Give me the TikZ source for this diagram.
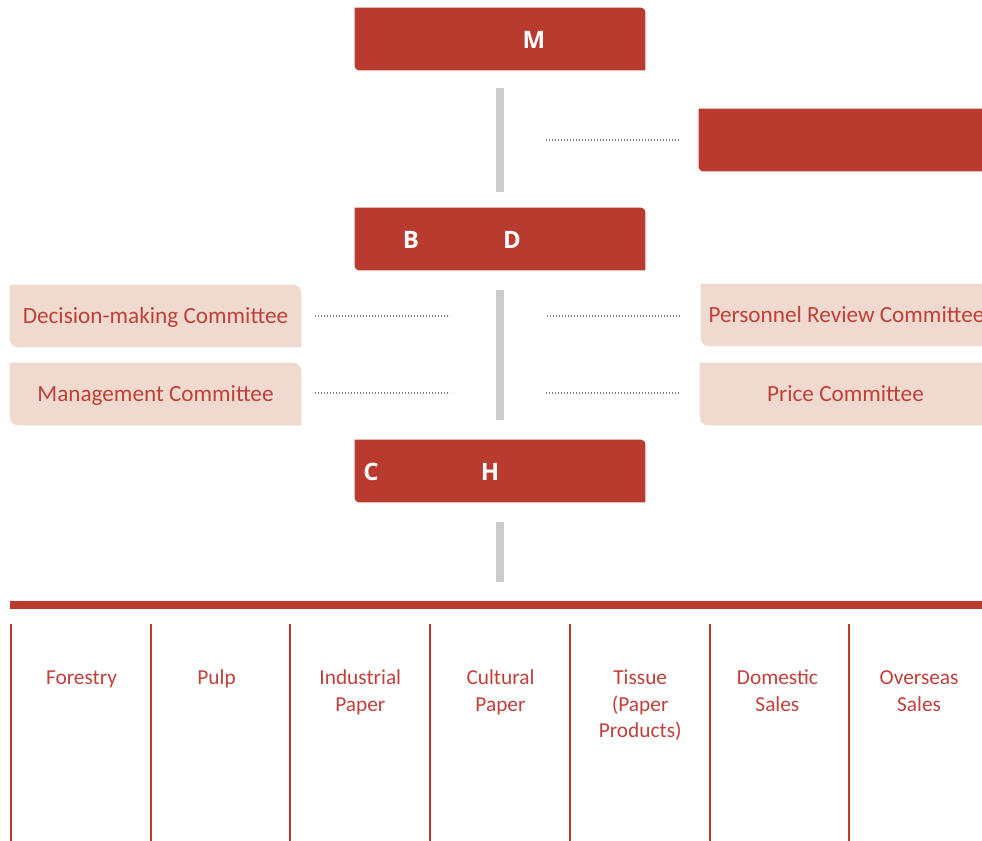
\documentclass[tikz,border=0pt]{standalone}
\usepackage{fontspec}
\setmainfont{Carlito}
\newfontfamily\headfont{Open Sans}
\usetikzlibrary{calc,backgrounds}
\definecolor{boxred}{HTML}{B93A2E}
\definecolor{txtred}{HTML}{C0403A}
\definecolor{pinkfill}{HTML}{F0DACF}
\definecolor{bargrey}{HTML}{CCCCCC}
\definecolor{dotgrey}{HTML}{808080}
\newcommand{\leafbox}[3]{%
  \fill[#2] (#1.north west) -- ([xshift=-#3]#1.north east)
    arc[start angle=90,end angle=0,radius=#3] -- (#1.south east)
    -- ([xshift=#3]#1.south west) arc[start angle=270,end angle=180,radius=#3] -- cycle;}
\begin{document}
\begin{tikzpicture}[x=0.75pt,y=-0.75pt,
  redbox/.style={minimum width=217.5pt,minimum height=46.5pt,inner sep=0pt},
  combox/.style={minimum width=218.25pt,minimum height=46.5pt,inner sep=0pt,
     font=\fontsize{17.4}{20}\selectfont,text=txtred,text height=11.4pt,text depth=0pt},
  headtxt/.style={font=\headfont\bfseries\fontsize{18}{20}\selectfont,text=white,anchor=base,inner sep=0pt},
  bar/.style={draw=bargrey,line width=6pt},
  dots/.style={draw=dotgrey,line width=0.9pt,dash pattern=on 0.9pt off 1.35pt},
  divline/.style={draw=boxred,line width=1.5pt},
  unit/.style={font=\fontsize{16}{20}\selectfont,text=txtred,align=center,anchor=north,inner sep=0pt}]
\clip (0,0) rectangle (982,840);
\useasboundingbox (0,0) rectangle (982,840);
% red boxes
\node[redbox] (gm) at (500,39) {};
\node[redbox,minimum width=218.25pt] (sup) at (844.5,140) {};
\node[redbox] (bd) at (500,239) {};
\node[redbox] (ch) at (500,471) {};
% committee boxes
\node[combox] (dmc) at (155.5,316) {Decision-making Committee};
\node[combox] (mc) at (155.5,394) {Management Committee};
\node[combox] (prc) at (846.5,315) {Personnel Review Committee};
\node[combox] (pc) at (845.5,394) {Price Committee};
\begin{scope}[on background layer]
\leafbox{gm}{boxred}{3pt}
\leafbox{sup}{boxred}{3pt}
\leafbox{bd}{boxred}{3pt}
\leafbox{ch}{boxred}{3pt}
\leafbox{dmc}{pinkfill}{6pt}
\leafbox{mc}{pinkfill}{6pt}
\leafbox{prc}{pinkfill}{6pt}
\leafbox{pc}{pinkfill}{6pt}
\end{scope}
% letters in red boxes
\node[headtxt] (gmM) at (534,48) {M};
\node[headtxt] (bdB) at (411,248) {B};
\node[headtxt] (bdD) at (512,248) {D};
\node[headtxt] (chC) at (371,480) {C};
\node[headtxt] (chH) at (490,480) {H};
% grey bars
\draw[bar] ($(gm.south)+(0,18)$) -- ($(bd.north)+(0,-16)$);
\draw[bar] ($(bd.south)+(0,20)$) coordinate (b2top) -- ($(ch.north)+(0,-20)$) coordinate (b2bot);
\draw[bar] ($(ch.south)+(0,20)$) -- ($(ch.south)+(0,80)$);
% dotted connectors
\draw[dots] ($(sup.west)+(-153,0)$) -- ($(sup.west)+(-19,0)$);
\draw[dots] ($(dmc.east)+(14,0)$) -- ($(dmc.east)+(149,0)$);
\draw[dots] ($(mc.east)+(14,-1)$) -- ($(mc.east)+(149,-1)$);
\draw[dots] ($(prc.west)+(-154,1)$) -- ($(prc.west)+(-20,1)$);
\draw[dots] ($(pc.west)+(-154,-1)$) -- ($(pc.west)+(-20,-1)$);
% horizontal red bar
\coordinate (hl) at (10,605);
\coordinate (hr) at (992,605);
\draw[draw=boxred,line width=6pt] (hl) -- (hr);
% columns
\foreach \i in {0,...,6}{
  \coordinate (c\i) at ({11+139.7*\i},624);
  \draw[divline] (c\i) -- ++(0,230);
}
\node[unit] (u1) at (81.5,665.5) {\strut Forestry};
\node[unit] (u2) at (216.6,665.5) {\strut Pulp};
\node[unit] (u3) at (360.3,665.5) {\strut Industrial\\Paper};
\node[unit] (u4) at (500.5,665.5) {\strut Cultural\\Paper};
\node[unit] (u5) at (640.2,665.5) {\strut Tissue\\(Paper\\Products)};
\node[unit] (u6) at (777.4,665.5) {\strut Domestic\\Sales};
\node[unit] (u7) at (919.1,665.5) {\strut Overseas\\Sales};
\end{tikzpicture}
\end{document}
